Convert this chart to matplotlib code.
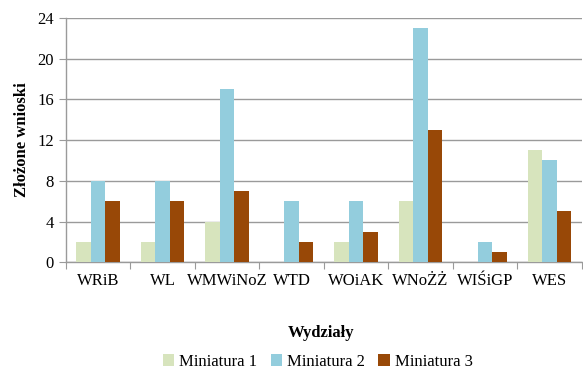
import numpy as np
import matplotlib.pyplot as plt

plt.rcParams['font.family'] = 'serif'
plt.rcParams['font.serif'] = ['Liberation Serif', 'DejaVu Serif']

# Wydziały i liczba złożonych wniosków
wydzialy = ["WRiB", "WL", "WMWiNoZ", "WTD", "WOiAK", "WNoŻŻ", "WIŚiGP", "WES"]
miniatura1 = [2, 2, 4, 0, 2, 6, 0, 11]
miniatura2 = [8, 8, 17, 6, 6, 23, 2, 10]
miniatura3 = [6, 6, 7, 2, 3, 13, 1, 5]

serie = [("Miniatura 1", miniatura1, "#D7E4BD"),
         ("Miniatura 2", miniatura2, "#93CDDD"),
         ("Miniatura 3", miniatura3, "#984807")]

fig = plt.figure(figsize=(5.83, 3.72), dpi=100)
ax = fig.add_axes([0.113, 0.295, 0.885, 0.657])

x = np.arange(len(wydzialy))
w = 0.225
for i, (nazwa, vals, kolor) in enumerate(serie):
    ax.bar(x + (i - 1) * w, vals, w, color=kolor, label=nazwa, zorder=3)

ax.set_xlim(-0.5, len(wydzialy) - 0.5)
ax.set_ylim(0, 24)
ax.set_yticks(range(0, 25, 4))
ax.yaxis.grid(True, color="#9a9a9a", linewidth=1, zorder=0)

# tick marks at group boundaries, labels centred under groups
ax.set_xticks(np.arange(-0.5, len(wydzialy), 1))
ax.set_xticklabels([])
ax.set_xticks(x, minor=True)
ax.set_xticklabels(wydzialy, minor=True, fontsize=12)
ax.tick_params(axis="x", which="major", length=5, color="#9a9a9a", direction="out")
ax.tick_params(axis="x", which="minor", length=0, pad=8)
ax.tick_params(axis="y", length=5, color="#9a9a9a", labelsize=12)

for s in ["top", "right"]:
    ax.spines[s].set_visible(False)
for s in ["left", "bottom"]:
    ax.spines[s].set_color("#9a9a9a")
    ax.spines[s].set_linewidth(1)

ax.set_ylabel("Złożone wnioski", fontsize=12, fontweight="bold", labelpad=5)
fig.text(0.55, 0.095, "Wydziały", ha="center", fontsize=12, fontweight="bold")

fig.legend(loc="lower center", bbox_to_anchor=(0.545, -0.035), ncol=3, frameon=False,
           fontsize=12, handlelength=0.7, handleheight=0.7, handletextpad=0.3,
           columnspacing=0.8)

fig.savefig("out.png", dpi=100)
